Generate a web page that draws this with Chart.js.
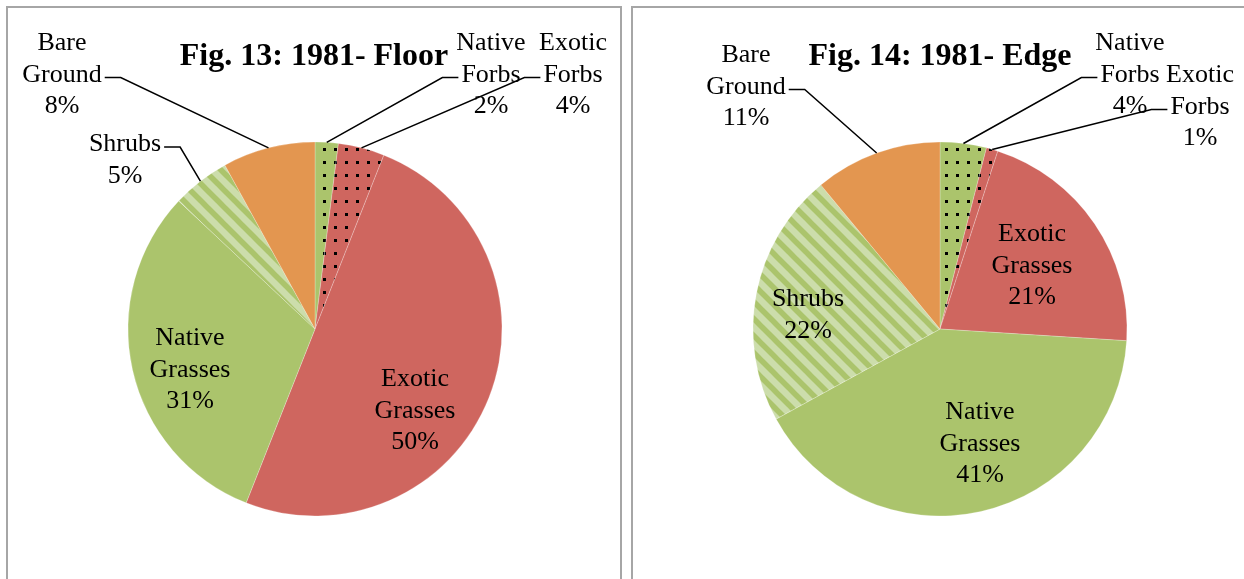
<!DOCTYPE html>
<html>
<head>
<meta charset="utf-8">
<title>1981 ground cover</title>
<script src="https://cdn.jsdelivr.net/npm/chart.js@4"></script>
<style>
  html, body { margin: 0; padding: 0; background: #fff; overflow: hidden; }
  body { width: 1244px; height: 579px; position: relative; }
  .frame { position: absolute; border: 2px solid #a6a6a6; box-sizing: border-box; }
  .plot { position: absolute; top: 0; height: 579px; }
</style>
</head>
<body>
<div class="frame" style="left:6px; top:6px; width:616px; height:620px;"></div>
<div class="frame" style="left:631px; top:6px; width:640px; height:620px;"></div>
<div class="plot" style="left:0; width:622px;"><canvas id="floorChart"></canvas></div>
<div class="plot" style="left:622px; width:622px;"><canvas id="edgeChart"></canvas></div>

<script>
// Cover classes, in the order the slices run clockwise from 12 o'clock
const categories = ['Native Forbs', 'Exotic Forbs', 'Exotic Grasses', 'Native Grasses', 'Shrubs', 'Bare Ground'];

// Percent cover, 1981
const floorValues = [2, 4, 50, 31, 5, 8];
const edgeValues = [4, 1, 21, 41, 22, 11];

const ORANGE = '#E39650';
const RED = '#CF665F';
const GREEN = '#ABC46C';
const PALE_GREEN = '#CCDDAB';
const SERIF = "'Liberation Serif', 'Times New Roman', serif";

// small repeating fills for the forb and shrub slices
function dotted(bg) {
  const c = document.createElement('canvas');
  c.width = 11; c.height = 13;
  const g = c.getContext('2d');
  g.fillStyle = bg;
  g.fillRect(0, 0, 11, 13);
  g.fillStyle = '#000';
  g.fillRect(4, 5, 3, 3);
  return g.createPattern(c, 'repeat');
}

function striped() {
  const n = 17;
  const c = document.createElement('canvas');
  c.width = n; c.height = n;
  const g = c.getContext('2d');
  g.fillStyle = PALE_GREEN;
  g.fillRect(0, 0, n, n);
  g.strokeStyle = GREEN;
  g.lineWidth = 5.5;
  // run each band well past the tile so the wrap has no gaps
  for (const o of [-n, 0, n]) {
    g.beginPath();
    g.moveTo(o - n, -n);
    g.lineTo(o + 2 * n, 2 * n);
    g.stroke();
  }
  return g.createPattern(c, 'repeat');
}

const sliceFills = [dotted(GREEN), dotted(RED), RED, GREEN, striped(), ORANGE];

// Draws title, slice labels and leader lines
const sliceLabels = {
  id: 'sliceLabels',
  afterDatasetsDraw(chart, args, opts) {
    const ctx = chart.ctx;
    const meta = chart.getDatasetMeta(0);
    const values = chart.data.datasets[0].data;
    const total = values.reduce((a, b) => a + b, 0);
    const cx = meta.data[0].x;
    const cy = meta.data[0].y;

    ctx.save();
    ctx.fillStyle = '#000';
    ctx.strokeStyle = '#000';
    ctx.lineWidth = 1.5;
    ctx.textAlign = 'center';
    ctx.textBaseline = 'alphabetic';

    ctx.font = 'bold 32px ' + SERIF;
    ctx.fillText(opts.title, cx + opts.titleDx, cy - 264);

    ctx.font = '26px ' + SERIF;
    meta.data.forEach((arc, i) => {
      const spot = opts.spots[i];
      const p = arc.getProps(['x', 'y', 'startAngle', 'endAngle', 'outerRadius'], true);
      const pct = Math.round(values[i] / total * 100) + '%';
      const lines = chart.data.labels[i].split(' ').concat(pct);
      const tx = cx + spot.dx;
      const ty = cy + spot.dy;
      lines.forEach((t, k) => ctx.fillText(t, tx, ty + k * 31.5));

      if (spot.leader) {
        const k = spot.leader.line;
        const w = ctx.measureText(lines[k]).width;
        const dir = spot.leader.side === 'right' ? 1 : -1;
        const ly = ty + k * 31.5 - 4;
        const x0 = tx + dir * (w / 2 + 3);
        const x1 = x0 + dir * 16;
        const mid = (p.startAngle + p.endAngle) / 2;
        ctx.beginPath();
        ctx.moveTo(x0, ly);
        ctx.lineTo(x1, ly);
        ctx.lineTo(p.x + Math.cos(mid) * p.outerRadius, p.y + Math.sin(mid) * p.outerRadius);
        ctx.stroke();
      }
    });
    ctx.restore();
  }
};

function makePie(id, values, padLeft, title, titleDx, spots) {
  return new Chart(document.getElementById(id), {
    type: 'pie',
    data: {
      labels: categories,
      datasets: [{
        data: values,
        backgroundColor: sliceFills,
        borderColor: 'rgba(255,255,255,0.3)',
        borderWidth: 0.8,
        radius: 187
      }]
    },
    options: {
      responsive: true,
      maintainAspectRatio: false,
      animation: false,
      events: [],
      layout: { padding: { left: padLeft, top: 79, right: 0, bottom: 0 } },
      plugins: {
        legend: { display: false },
        tooltip: { enabled: false },
        sliceLabels: { title, titleDx, spots }
      }
    },
    plugins: [sliceLabels]
  });
}

makePie('floorChart', floorValues, 8, 'Fig. 13: 1981- Floor', -1, [
  { dx: 176, dy: -279, leader: { line: 1, side: 'left' } },
  { dx: 258, dy: -279, leader: { line: 1, side: 'left' } },
  { dx: 100, dy: 57 },
  { dx: -125, dy: 16 },
  { dx: -190, dy: -178, leader: { line: 0, side: 'right' } },
  { dx: -253, dy: -279, leader: { line: 1, side: 'right' } }
]);

makePie('edgeChart', edgeValues, 14, 'Fig. 14: 1981- Edge', 0, [
  { dx: 190, dy: -279, leader: { line: 1, side: 'left' } },
  { dx: 260, dy: -247, leader: { line: 1, side: 'left' } },
  { dx: 92, dy: -88 },
  { dx: 40, dy: 90 },
  { dx: -132, dy: -23 },
  { dx: -194, dy: -267, leader: { line: 1, side: 'right' } }
]);
</script>
</body>
</html>
